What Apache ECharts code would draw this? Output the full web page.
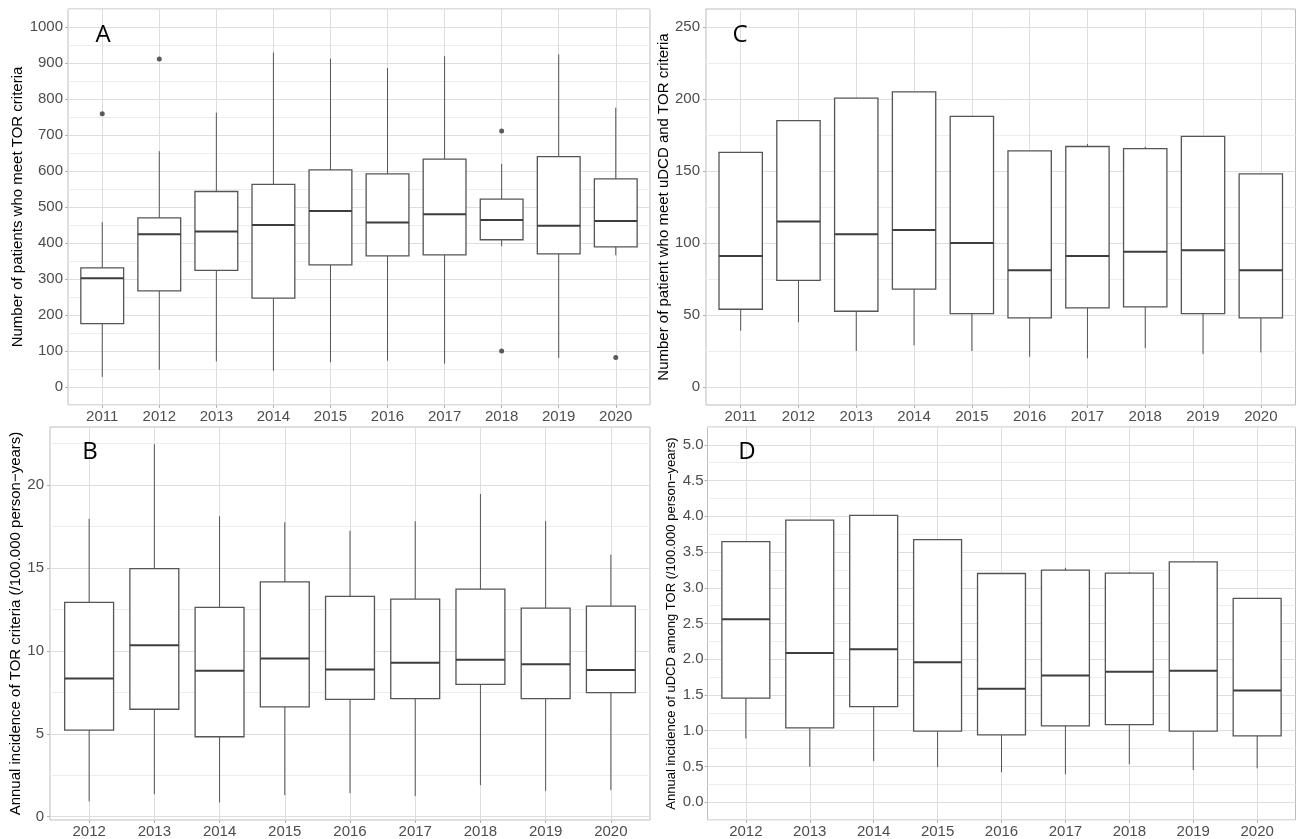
<!DOCTYPE html>
<html>
<head>
<meta charset="utf-8">
<script src="https://cdn.jsdelivr.net/npm/echarts@6/dist/echarts.min.js"></script>
<style>
html,body{margin:0;padding:0;background:#fff;}
#chart{width:1296px;height:839px;}
</style>
</head>
<body>
<div id="chart"></div>
<script>
// ---------------- data ----------------
const yearsAC = [2011, 2012, 2013, 2014, 2015, 2016, 2017, 2018, 2019, 2020];
const yearsBD = [2012, 2013, 2014, 2015, 2016, 2017, 2018, 2019, 2020];

// Panel A: Number of patients who meet TOR criteria
const aMin = [28, 48, 71, 45, 69, 73, 65, 391, 81, 366];
const aQ1  = [176, 267, 324, 247, 339, 364, 367, 409, 370, 389];
const aMed = [302, 424, 432, 450, 489, 457, 480, 464, 448, 461];
const aQ3  = [331, 470, 543, 563, 603, 592, 633, 522, 640, 578];
const aMax = [458, 655, 762, 929, 912, 886, 919, 620, 924, 776];
const aOutYears  = [2011, 2012, 2018, 2018, 2020];
const aOutValues = [759, 911, 711, 100, 82];

// Panel C: Number of patient who meet uDCD and TOR criteria
const cMin = [39, 45, 25, 29, 25, 21, 20, 27, 23, 24];
const cQ1  = [54, 74, 52.6, 68, 51, 48, 55, 55.6, 51, 48];
const cMed = [91, 115, 106, 109, 100, 81, 91, 94, 95, 81];
const cQ3  = [163, 185, 200.6, 205, 188, 164, 167, 165.5, 174, 148];
const cMax = [163, 185, 200.6, 205, 188, 164, 168.7, 166.8, 174, 148];

// Panel B: Annual incidence of TOR criteria
const bMin = [0.92, 1.36, 0.86, 1.30, 1.42, 1.24, 1.90, 1.56, 1.60];
const bQ1  = [5.22, 6.48, 4.82, 6.62, 7.08, 7.12, 7.98, 7.12, 7.48];
const bMed = [8.34, 10.34, 8.80, 9.54, 8.88, 9.28, 9.46, 9.20, 8.84];
const bQ3  = [12.92, 14.96, 12.62, 14.16, 13.28, 13.12, 13.72, 12.58, 12.70];
const bMax = [17.96, 22.46, 18.12, 17.76, 17.24, 17.82, 19.46, 17.82, 15.80];

// Panel D: Annual incidence of uDCD among TOR
const dMin = [0.89, 0.496, 0.575, 0.49, 0.417, 0.39, 0.53, 0.45, 0.473];
const dQ1  = [1.456, 1.039, 1.336, 0.993, 0.94, 1.067, 1.085, 0.993, 0.928];
const dMed = [2.56, 2.087, 2.138, 1.957, 1.586, 1.772, 1.823, 1.84, 1.563];
const dQ3  = [3.646, 3.947, 4.012, 3.673, 3.2, 3.247, 3.205, 3.363, 2.853];
const dMax = [3.646, 3.947, 4.012, 3.673, 3.2, 3.28, 3.22, 3.363, 2.853];

// tick labels
const aTicks = [0, 100, 200, 300, 400, 500, 600, 700, 800, 900, 1000];
const cTicks = [0, 50, 100, 150, 200, 250];
const bTicks = [0, 5, 10, 15, 20];
const dTicks = [0, 0.5, 1, 1.5, 2, 2.5, 3, 3.5, 4, 4.5, 5];

// ---------------- styles ----------------
const MAJOR = '#dedede', MINOR = '#ededed', NONE = 'rgba(0,0,0,0)';
const BORDER = '#bdbdbd', TICK = '#b3b3b3';
const LABEL = '#4d4d4d';
const FONT = 'Liberation Sans';
const BOX_STROKE = '#555555', MED_STROKE = '#3d3d3d';
const BOX_W = 0.75;

function rows(years, mn, q1, md, q3, mx) {
  return years.map((y, i) => [y, mn[i], q1[i], md[i], q3[i], mx[i]]);
}

function renderBox(params, api) {
  const x = api.value(0);
  const lo = api.coord([x, api.value(1)]);
  const q1 = api.coord([x, api.value(2)]);
  const md = api.coord([x, api.value(3)]);
  const q3 = api.coord([x, api.value(4)]);
  const hi = api.coord([x, api.value(5)]);
  const w = api.size([BOX_W, 0])[0];
  const cx = q1[0];
  const children = [];
  if (hi[1] < q3[1] - 0.5) children.push({type: 'line', shape: {x1: cx, y1: hi[1], x2: cx, y2: q3[1]}, style: {stroke: BOX_STROKE, lineWidth: 1}});
  if (lo[1] > q1[1] + 0.5) children.push({type: 'line', shape: {x1: cx, y1: q1[1], x2: cx, y2: lo[1]}, style: {stroke: BOX_STROKE, lineWidth: 1}});
  children.push({type: 'rect', shape: {x: cx - w / 2, y: q3[1], width: w, height: q1[1] - q3[1]}, style: {fill: '#ffffff', stroke: BOX_STROKE, lineWidth: 1.3}});
  children.push({type: 'line', shape: {x1: cx - w / 2, y1: md[1], x2: cx + w / 2, y2: md[1]}, style: {stroke: MED_STROKE, lineWidth: 2}});
  return {type: 'group', children: children};
}

const panels = [
  {grid: {left: 68, top: 9, width: 582, height: 396}, xmin: 2010.4, xmax: 2020.6, years: yearsAC,
   ymin: -50, ymax: 1050, yint: 50, ycolors: [MINOR, MAJOR], yticks: aTicks, yfmt: v => String(v),
   name: 'Number of patients who meet TOR criteria', nameSize: 15, nameGap: 43, lmargin: 5,
   data: rows(yearsAC, aMin, aQ1, aMed, aQ3, aMax), out: aOutYears.map((y, i) => [y, aOutValues[i]])},
  {grid: {left: 706, top: 9, width: 589.5, height: 396}, xmin: 2010.4, xmax: 2020.6, years: yearsAC,
   ymin: -12.5, ymax: 262.5, yint: 12.5, ycolors: [NONE, MAJOR, NONE, MINOR], yticks: cTicks, yfmt: v => String(v),
   name: 'Number of patient who meet uDCD and TOR criteria', nameSize: 15, nameGap: 33, lmargin: 6,
   data: rows(yearsAC, cMin, cQ1, cMed, cQ3, cMax), out: []},
  {grid: {left: 50, top: 427, width: 600, height: 395}, xmin: 2011.4, xmax: 2020.6, years: yearsBD,
   ymin: -0.2, ymax: 23.5, yint: 0.1, ycolors: null, yticks: bTicks, yfmt: v => String(v),
   name: 'Annual incidence of TOR criteria (/100.000 person\u2212years)', nameSize: 15, nameGap: 24, lmargin: 6,
   data: rows(yearsBD, bMin, bQ1, bMed, bQ3, bMax), out: []},
  {grid: {left: 707.5, top: 427, width: 588, height: 395}, xmin: 2011.4, xmax: 2020.6, years: yearsBD,
   ymin: -0.25, ymax: 5.25, yint: 0.25, ycolors: [MINOR, MAJOR], yticks: dTicks, yfmt: v => v.toFixed(1),
   name: 'Annual incidence of uDCD among TOR (/100.000 person\u2212years)', nameSize: 13, nameGap: 30, lmargin: 4,
   data: rows(yearsBD, dMin, dQ1, dMed, dQ3, dMax), out: []}
];

// panel B: ticks every 0.1 from -0.2 -> 0 at index 2, 2.5 at index 27, period 50
const bColors = [];
for (let i = 0; i < 50; i++) bColors.push(i === 2 ? MAJOR : (i === 27 ? MINOR : NONE));
panels[2].ycolors = bColors;

const grids = [], xAxes = [], yAxes = [], series = [];
const near = (v, arr) => arr.some(t => Math.abs(t - v) < 1e-6);

panels.forEach((p, k) => {
  grids.push(Object.assign({show: true, borderColor: BORDER, borderWidth: 1, backgroundColor: '#fff', containLabel: false}, p.grid));
  xAxes[k] = {
    type: 'value', gridIndex: k, position: 'bottom', min: p.xmin, max: p.xmax, interval: 0.2,
    axisLine: {show: false, onZero: false}, axisTick: {show: false},
    axisLabel: {color: LABEL, fontSize: 15, fontFamily: FONT, margin: 4, showMinLabel: false, showMaxLabel: false,
      formatter: v => near(v, p.years) ? String(Math.round(v)) : ''},
    splitLine: {show: true, lineStyle: {color: [NONE, NONE, NONE, MAJOR, NONE], width: 1}}
  };
  yAxes[k] = {
    type: 'value', gridIndex: k, position: 'left', min: p.ymin, max: p.ymax, interval: p.yint,
    axisLine: {show: false, onZero: false}, axisTick: {show: false},
    axisLabel: {color: LABEL, fontSize: 15, fontFamily: FONT, margin: p.lmargin,
      formatter: v => near(v, p.yticks) ? p.yfmt(v) : ''},
    splitLine: {show: true, lineStyle: {color: p.ycolors, width: 1}},
    name: p.name, nameLocation: 'middle', nameGap: p.nameGap,
    nameTextStyle: {color: '#000', fontSize: p.nameSize, fontFamily: FONT}
  };
  // tick-only overlay axes
  xAxes[k + 4] = {
    type: 'value', gridIndex: k, position: 'bottom', min: p.xmin, max: p.xmax,
    axisLine: {show: false, onZero: false}, axisLabel: {show: false}, splitLine: {show: false},
    axisTick: {show: true, length: 3, customValues: p.years, lineStyle: {color: TICK}}
  };
  yAxes[k + 4] = {
    type: 'value', gridIndex: k, position: 'left', min: p.ymin, max: p.ymax,
    axisLine: {show: false, onZero: false}, axisLabel: {show: false}, splitLine: {show: false},
    axisTick: {show: true, length: 3, customValues: p.yticks, lineStyle: {color: TICK}}
  };
  series.push({
    type: 'custom', xAxisIndex: k, yAxisIndex: k, renderItem: renderBox,
    encode: {x: 0, y: [1, 2, 3, 4, 5]}, data: p.data, silent: true, clip: false
  });
  if (p.out.length) {
    series.push({type: 'scatter', xAxisIndex: k, yAxisIndex: k, data: p.out, symbolSize: 5,
      itemStyle: {color: '#333333'}, silent: true});
  }
});

const letterFont = '24px "Open Sans"';
const letters = [['A', 103, 35], ['C', 740, 35], ['B', 90, 452], ['D', 747, 452]];
const graphic = letters.map(l => ({type: 'text', x: l[1], y: l[2], z: 100,
  style: {text: l[0], font: letterFont, fill: '#000', align: 'center', verticalAlign: 'middle'}}));

const chart = echarts.init(document.getElementById('chart'), null, {renderer: 'canvas'});
chart.setOption({
  animation: false,
  backgroundColor: '#ffffff',
  grid: grids, xAxis: xAxes, yAxis: yAxes, series: series, graphic: graphic
});
</script>
</body>
</html>
